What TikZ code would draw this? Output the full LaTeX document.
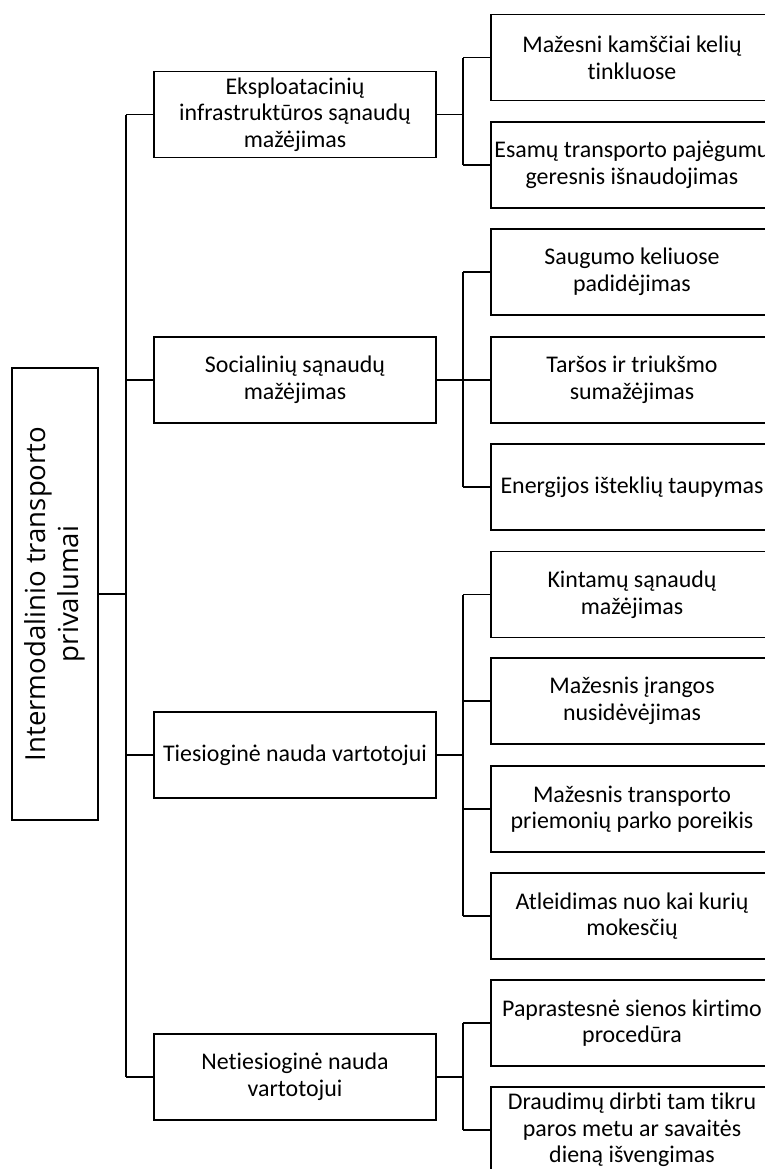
\documentclass[tikz,border=0pt]{standalone}
\usepackage{fontspec}
\setmainfont[Ligatures=NoCommon]{Carlito}
\newfontfamily\rootfamily{Open Sans}
\begin{document}
\begin{tikzpicture}[x=1bp, y=-1bp,
  box/.style={draw, line width=1.8bp, minimum width=282bp, minimum height=86bp,
    inner xsep=0pt, inner ysep=2bp, align=center, font=\fontsize{24}{26.7}\selectfont},
  rootbox/.style={draw, line width=1.8bp, rotate=90, minimum width=452bp, minimum height=86bp,
    inner sep=0pt, align=center, font=\rootfamily\fontsize{27.7}{33.3}\selectfont},
  link/.style={line width=1.7bp}]
\clip (0,0) rectangle (765,1169);

% root
\node[rootbox] (root) at (55,594) {Intermodalinio transporto\\privalumai};

% second level
\node[box] (m1) at (295,114.5) {Eksploatacinių\\infrastruktūros sąnaudų\\mažėjimas};
\node[box] (m2) at (295,380) {Socialinių sąnaudų\\mažėjimas};
\node[box] (m3) at (295,755) {Tiesioginė nauda vartotojui};
\node[box] (m4) at (295,1077) {Netiesioginė nauda\\vartotojui};

% third level
\node[box] (r1) at (632,57.5) {Mažesni kamščiai kelių\\tinkluose};
\node[box] (r2) at (632,165) {Esamų transporto pajėgumų\\geresnis išnaudojimas};
\node[box] (r3) at (632,272) {Saugumo keliuose\\padidėjimas};
\node[box] (r4) at (632,380) {Taršos ir triukšmo\\sumažėjimas};
\node[box] (r5) at (632,487) {Energijos išteklių taupymas};
\node[box] (r6) at (632,594.5) {Kintamų sąnaudų\\mažėjimas};
\node[box] (r7) at (632,701) {Mažesnis įrangos\\nusidėvėjimas};
\node[box] (r8) at (632,809) {Mažesnis transporto\\priemonių parko poreikis};
\node[box] (r9) at (632,916) {Atleidimas nuo kai kurių\\mokesčių};
\node[box] (r10) at (632,1023) {Paprastesnė sienos kirtimo\\procedūra};
\node[box] (r11) at (632,1130) {Draudimų dirbti tam tikru\\paros metu ar savaitės\\dieną išvengimas};

% bus lines
\coordinate (t) at (126,0);
\coordinate (b) at (463,0);

\draw[link] (root.south) -- (root.south -| t);
\draw[link] (m1.west -| t) -- (m4.west -| t);
\foreach \m in {m1,m2,m3,m4}
  \draw[link] (\m.west -| t) -- (\m.west);

\foreach \m/\first/\last/\all in {m1/r1/r2/{r1,r2}, m2/r3/r5/{r3,r4,r5},
    m3/r6/r9/{r6,r7,r8,r9}, m4/r10/r11/{r10,r11}}{
  \draw[link] (\m.east) -- (\m.east -| b);
  \draw[link] (\first.west -| b) -- (\last.west -| b);
  \foreach \r in \all
    \draw[link] (\r.west -| b) -- (\r.west);
}
\end{tikzpicture}
\end{document}
